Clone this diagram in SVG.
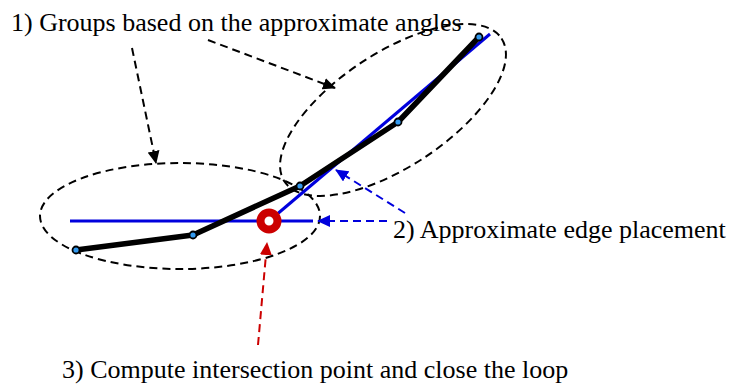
<svg xmlns="http://www.w3.org/2000/svg" width="731" height="385" viewBox="0 0 731 385">
<style>
.lbl{font-family:"Liberation Serif","Times New Roman",serif;font-size:26px;fill:#000}
.grp{fill:none;stroke:#000;stroke-width:2;stroke-dasharray:8,5}
.blk{fill:none;stroke:#000;stroke-width:2;stroke-dasharray:8,5}
.blu{fill:none;stroke:#0000dd;stroke-width:2;stroke-dasharray:8,5}
.red{fill:none;stroke:#cc0000;stroke-width:2;stroke-dasharray:8,5}
.pt{fill:#3399ee;stroke:#000;stroke-width:1.8}
</style>
<defs>
<marker id="ak" markerWidth="13" markerHeight="12" refX="12" refY="6" orient="auto" markerUnits="userSpaceOnUse" viewBox="0 0 13 12"><path d="M0,0 L13,6 L0,12 Z" fill="#000"/></marker>
<marker id="ab" markerWidth="13" markerHeight="12" refX="12" refY="6" orient="auto" markerUnits="userSpaceOnUse" viewBox="0 0 13 12"><path d="M0,0 L13,6 L0,12 Z" fill="#0000dd"/></marker>
<marker id="ar" markerWidth="13" markerHeight="12" refX="12" refY="6" orient="auto" markerUnits="userSpaceOnUse" viewBox="0 0 13 12"><path d="M0,0 L13,6 L0,12 Z" fill="#cc0000"/></marker>
</defs>
<g id="group-left"><ellipse class="grp" cx="180" cy="216" rx="140" ry="53"/></g>
<g id="group-right"><ellipse class="grp" cx="393" cy="110" rx="130" ry="57" transform="rotate(-33.4 393 110)"/></g>
<g id="approx-edges">
<line x1="70" y1="221" x2="313" y2="221" stroke="#0000dd" stroke-width="3"/>
<line x1="269" y1="221" x2="490" y2="34" stroke="#0000dd" stroke-width="3"/>
</g>
<g id="polyline"><polyline points="76,250 193,235 300,186 398,122 479,37" fill="none" stroke="#000" stroke-width="5.5" stroke-linejoin="round"/></g>
<g id="p1"><circle class="pt" cx="76" cy="250" r="3.5"/></g>
<g id="p2"><circle class="pt" cx="193" cy="235" r="3.5"/></g>
<g id="p3"><circle class="pt" cx="300" cy="186" r="3.5"/></g>
<g id="p4"><circle class="pt" cx="398" cy="122" r="3.5"/></g>
<g id="p5"><circle class="pt" cx="479" cy="37" r="3.5"/></g>
<g id="intersection"><circle cx="269" cy="221" r="8.5" fill="#fff" stroke="#cc0000" stroke-width="8"/></g>
<g id="connectors">
<line class="blk" x1="132" y1="48" x2="156" y2="163" marker-end="url(#ak)"/>
<line class="blk" x1="208" y1="40" x2="335" y2="88" marker-end="url(#ak)"/>
<line class="blu" x1="387" y1="221" x2="318" y2="221" marker-end="url(#ab)"/>
<line class="blu" x1="405" y1="213" x2="336" y2="170" marker-end="url(#ab)"/>
<line class="red" x1="258" y1="345" x2="267" y2="243" marker-end="url(#ar)"/>
</g>
<g id="labels">
<text class="lbl" x="11" y="31">1) Groups based on the approximate angles</text>
<text class="lbl" x="393" y="238">2) Approximate edge placement</text>
<text class="lbl" x="62" y="378">3) Compute intersection point and close the loop</text>
</g>
</svg>
